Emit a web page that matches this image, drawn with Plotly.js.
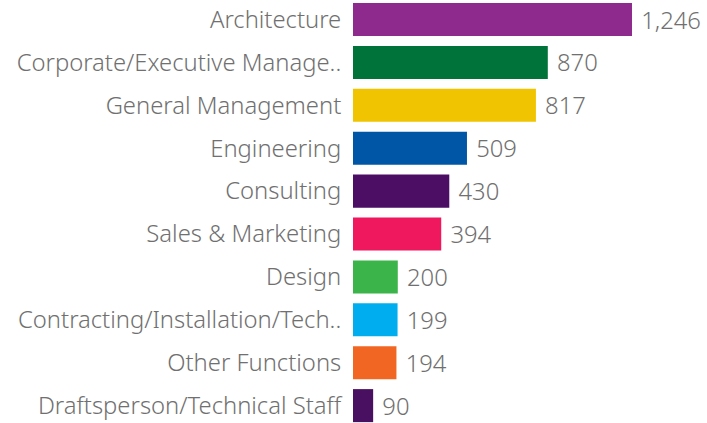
<!DOCTYPE html>
<html><head><meta charset="utf-8">
<script src="https://cdn.plot.ly/plotly-3.0.1.min.js"></script>
<style>html,body{margin:0;padding:0;background:#fff;}#chart{width:707px;height:423px;}</style>
</head><body><div id="chart"></div>
<script>
const categories = ["Architecture","Corporate/Executive Manage..","General Management","Engineering","Consulting","Sales & Marketing","Design","Contracting/Installation/Tech..","Other Functions","Draftsperson/Technical Staff"];
const values = [1246, 870, 817, 509, 430, 394, 200, 199, 194, 90];
const colors = ["#8E298E","#00733A","#F0C400","#0056A6","#4B0E64","#EF175E","#3BB44A","#00AEEF","#F26623","#490F60"];

const fontSpec = {family: "Noto Sans", size: 23.8, color: "#707070", weight: 300};
const trace = {
  type: "bar", orientation: "h",
  x: values, y: categories,
  marker: {color: colors},
  width: 0.77,
  text: values.map(v => "\u00a0" + v.toLocaleString("en-US")),
  textposition: "outside",
  cliponaxis: false,
  textfont: fontSpec,
  hoverinfo: "none"
};
const layout = {
  width: 707, height: 423,
  margin: {l: 353, r: 0, t: 0, b: 0},
  paper_bgcolor: "#fff", plot_bgcolor: "#fff",
  showlegend: false,
  bargap: 0.23,
  xaxis: {range: [0, 1581], visible: false, fixedrange: true},
  yaxis: {type: "category", range: [9.405, -0.455], showgrid: false, zeroline: false, showline: false,
          ticks: "outside", ticklen: 6, tickcolor: "rgba(0,0,0,0)",
          tickfont: fontSpec, automargin: false}
};
Plotly.newPlot("chart", [trace], layout, {displayModeBar: false, staticPlot: true});
</script></body></html>
